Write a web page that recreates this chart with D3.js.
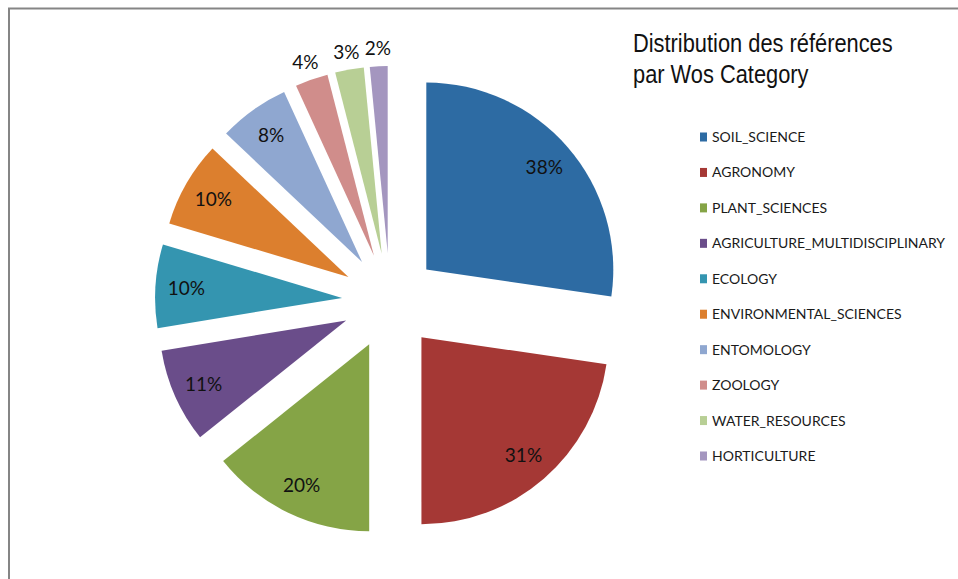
<!DOCTYPE html>
<html>
<head>
<meta charset="utf-8">
<script src="https://cdn.jsdelivr.net/npm/d3@7"></script>
<style>
  html, body { margin: 0; padding: 0; background: #fff; }
  svg { display: block; }
</style>
</head>
<body>
<svg id="chart" width="958" height="579"></svg>
<script>
const categories = ["SOIL_SCIENCE", "AGRONOMY", "PLANT_SCIENCES", "AGRICULTURE_MULTIDISCIPLINARY",
  "ECOLOGY", "ENVIRONMENTAL_SCIENCES", "ENTOMOLOGY", "ZOOLOGY", "WATER_RESOURCES", "HORTICULTURE"];
// percentages (labels shown rounded)
const values = [37.5, 31.2, 19.6, 11.2, 9.9, 10.2, 8.4, 3.9, 3.4, 2.1];
const colors = ["#2D6BA3", "#A53835", "#85A446", "#6A4D8A", "#3495B0", "#DC7F2E",
  "#8FA7D0", "#D08D8B", "#B8CF95", "#A496BF"];
const titleLines = ["Distribution des références", "par Wos Category"];

const svg = d3.select("#chart");

// frame
svg.append("path")
  .attr("d", "M9,579 L9,8.5 L958,8.5")
  .attr("fill", "none").attr("stroke", "#858585").attr("stroke-width", 2);

const cx = 390, cy = 301, R = 187, explode = 48;
const pie = d3.pie().sort(null).value(d => d);
const arcs = pie(values);
const arc = d3.arc().innerRadius(0).outerRadius(R);
const labelArc = d3.arc().innerRadius(156).outerRadius(156);
const outArc = d3.arc().innerRadius(R + 18).outerRadius(R + 18);

const g = svg.append("g").attr("transform", `translate(${cx},${cy})`);
const slice = g.selectAll("g.slice").data(arcs).enter().append("g")
  .attr("class", "slice")
  .attr("transform", d => {
    const m = (d.startAngle + d.endAngle) / 2;
    return `translate(${explode * Math.sin(m)},${-explode * Math.cos(m)})`;
  });

slice.append("path")
  .attr("d", arc)
  .attr("fill", (d, i) => colors[i]);

slice.append("text")
  .attr("transform", d => {
    const small = (d.endAngle - d.startAngle) < 0.25;
    const p = small ? outArc.centroid(d) : labelArc.centroid(d);
    return `translate(${p[0]},${p[1]})`;
  })
  .attr("text-anchor", "middle")
  .attr("dy", "0.36em")
  .attr("font-family", "Lato, 'Open Sans', sans-serif")
  .attr("font-size", 19)
  .attr("fill", "#111")
  .text(d => Math.round(d.data) + "%");

// title (narrow sans, emulated by horizontal compression)
const title = svg.append("text")
  .attr("transform", "translate(633,0) scale(0.84,1)")
  .attr("font-family", "'Liberation Sans', Arial, sans-serif")
  .attr("font-size", 26)
  .attr("fill", "#111");
title.selectAll("tspan").data(titleLines).enter().append("tspan")
  .attr("x", 0)
  .attr("y", (d, i) => 52.5 + i * 30.5)
  .text(d => d);

// legend
const ly = d3.scalePoint().domain(categories).range([137, 456]);
const leg = svg.append("g");
const item = leg.selectAll("g").data(categories).enter().append("g")
  .attr("transform", d => `translate(700,${ly(d)})`);
item.append("rect")
  .attr("x", 0).attr("y", -4.5).attr("width", 7).attr("height", 9)
  .attr("fill", (d, i) => colors[i]);
item.append("text")
  .attr("x", 12).attr("dy", "0.36em")
  .attr("font-family", "Lato, 'Open Sans', sans-serif")
  .attr("font-size", 14)
  .attr("fill", "#1a1a1a")
  .text(d => d);
</script>
</body>
</html>
